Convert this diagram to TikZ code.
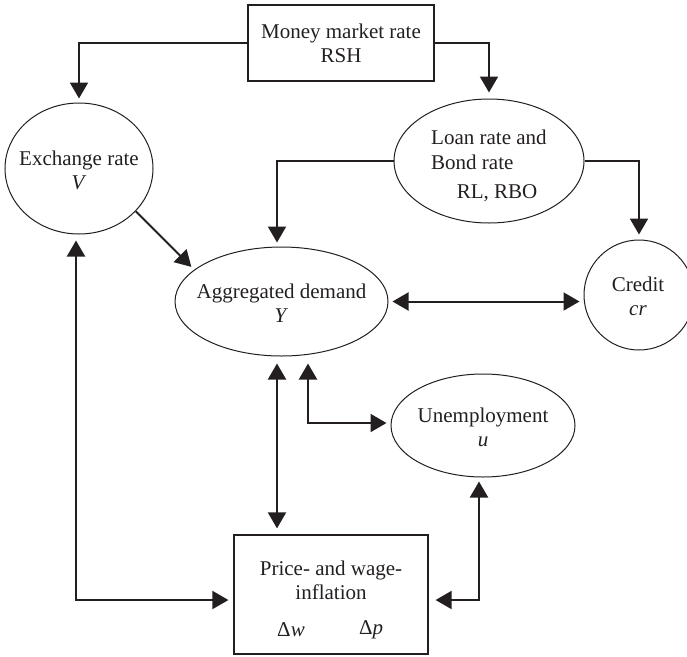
\documentclass[tikz,border=0pt]{standalone}
\usepackage{fontspec}
\setmainfont{Liberation Serif}
\usetikzlibrary{arrows.meta,shapes.geometric}
\definecolor{ink}{RGB}{35,31,32}
\begin{document}
\begin{tikzpicture}[x=1pt,y=-1pt,
  every node/.style={font=\fontsize{21}{24}\selectfont, text=ink},
  oval/.style={ellipse, draw=ink, line width=1pt, inner sep=0pt},
  boxnode/.style={rectangle, draw=ink, line width=1.2pt, inner sep=0pt},
  txt/.style={inner sep=0pt, align=center},
  tip/.style={Triangle[length=16pt,width=18pt]},
  oneway/.style={draw=ink, line width=2pt, -{Triangle[length=16pt,width=18pt]}, shorten >=4pt},
  twoway/.style={draw=ink, line width=2pt, {Triangle[length=16pt,width=18pt]}-{Triangle[length=16pt,width=18pt]}, shorten >=4pt, shorten <=4pt}
]
\useasboundingbox (0,0) rectangle (687,656);

% boxes and ellipses
\node[boxnode, minimum width=186pt, minimum height=76pt, align=center] (money) at (341,43) {Money market rate\\RSH};

\node[oval, minimum width=148pt, minimum height=131pt] (exch) at (79,168.5) {};
\node[txt] (exchtxt) at (79,170) {Exchange rate\\\textit{V}};

\node[oval, minimum width=190pt, minimum height=124pt] (loan) at (489,161) {};
\node[txt, anchor=west] (loan1) at (431,137) {Loan rate and};
\node[txt, anchor=west] (loan2) at (431,162) {Bond rate};
\node[txt] (loan3) at (497,193) {RL, RBO};

\node[oval, minimum width=213pt, minimum height=109pt] (agg) at (281.5,301.5) {};
\node[txt] (aggtxt) at (281.5,303) {Aggregated demand\\\textit{Y}};

\node[oval, minimum width=110pt, minimum height=110pt] (credit) at (639,295) {};
\node[txt] (credittxt) at (638,296) {Credit\\\textit{cr}};

\node[oval, minimum width=184pt, minimum height=103pt] (unemp) at (483,425.5) {};
\node[txt] (unemptxt) at (483,427.5) {Unemployment\\\textit{u}};

\node[boxnode, minimum width=194pt, minimum height=119pt] (price) at (331,594.5) {};
\node[txt] (pricetxt) at (331,580) {Price- and wage-\\inflation};
\node[txt] (dw) at (291,630) {Δ\textit{w}};
\node[txt] (dp) at (371,630) {Δ\textit{p}};

% helper points on the borders
\coordinate (aggN) at ([xshift=-4.5pt]agg.north);
\coordinate (aggS1) at ([xshift=-4.5pt]agg.south);
\coordinate (aggS2) at ([xshift=26.5pt]agg.south);
\coordinate (unempW) at ([yshift=2.5pt]unemp.west);
\coordinate (unempS) at ([xshift=-4pt]unemp.south);
\coordinate (priceE) at ([yshift=-5.5pt]price.east);
\coordinate (priceW) at ([yshift=-5.5pt]price.west);
\coordinate (exchS) at ([xshift=-3pt]exch.south);

% connectors
\draw[oneway] (money.west) -| (exch.north);
\draw[oneway, shorten >=6pt] (money.east) -| (loan.north);
\draw[oneway] (loan.west) -| (aggN);
\draw[oneway, shorten >=5pt] (loan.east) -| (credit.north);
\draw[oneway] (exch.-37) -- (agg.160);
\draw[twoway] (agg.east) -- (credit.west |- agg.east);
\draw[twoway, shorten <=7pt, shorten >=6pt] (aggS1) -- (aggS1 |- price.north);
\draw[twoway, shorten <=7pt] (aggS2) |- (unempW);
\draw[twoway, shorten >=7pt] (unempS) |- (priceE);
\draw[twoway, shorten <=6pt, shorten >=5pt] (exchS) |- (priceW);
\end{tikzpicture}
\end{document}
